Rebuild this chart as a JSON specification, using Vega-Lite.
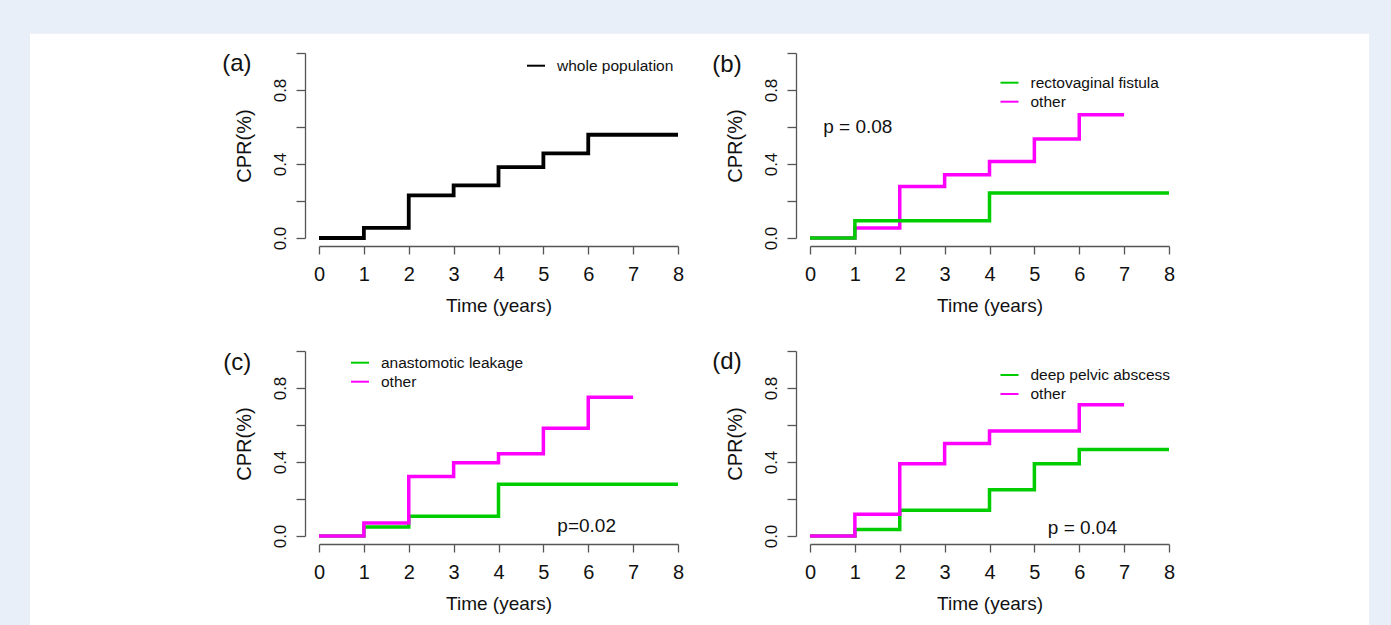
{
  "$schema": "https://vega.github.io/schema/vega-lite/v6.json",
  "background": "#e8eff8",
  "padding": {"left": 30, "top": 33, "right": 22, "bottom": 0},
  "config": {
    "view": {"stroke": null},
    "font": "Liberation Sans",
    "axis": {"grid": false, "domainColor": "#555555", "tickColor": "#555555", "domainWidth": 1.3, "tickWidth": 1.3, "labelColor": "#111111", "titleColor": "#111111", "titleFontWeight": "normal", "labelFont": "Liberation Sans", "titleFont": "Liberation Sans"},
    "axisX": {"labelFontSize": 20, "titleFontSize": 19},
    "axisY": {"labelFontSize": 17, "titleFontSize": 20},
    "legend": {"orient": "none", "symbolType": "stroke", "symbolSize": 324, "symbolStrokeWidth": 2, "labelFontSize": 15.5, "labelFont": "Liberation Sans", "labelColor": "#111111", "rowPadding": 0, "padding": 0, "labelOffset": 11, "title": null},
    "text": {"font": "Liberation Sans", "color": "#111111"}
  },
  "resolve": {"scale": {"color": "independent"}, "legend": {"color": "independent"}},
  "bounds": "flush",
  "columns": 2,
  "spacing": {"row": 113, "column": 132},
  "concat": [
    {
      "width": 359, "height": 185,
      "data": {"values": [
        {"group": "whole population", "t": 0, "cpr": 0},
        {"group": "whole population", "t": 1, "cpr": 0.055},
        {"group": "whole population", "t": 2, "cpr": 0.23},
        {"group": "whole population", "t": 3, "cpr": 0.284},
        {"group": "whole population", "t": 4, "cpr": 0.383},
        {"group": "whole population", "t": 5, "cpr": 0.457},
        {"group": "whole population", "t": 6, "cpr": 0.558},
        {"group": "whole population", "t": 8, "cpr": 0.558}
      ]},
      "encoding": {
        "x": {"field": "t", "type": "quantitative", "scale": {"domain": [0, 8], "nice": false, "zero": false},
          "axis": {"zindex": 1, "values": [0, 1, 2, 3, 4, 5, 6, 7, 8], "title": "Time (years)", "tickSize": 8, "offset": 8, "labelPadding": 10.5, "titlePadding": 11.5, "labelFlush": false, "labelOverlap": false}},
        "y": {"field": "cpr", "type": "quantitative", "scale": {"domain": [0, 1], "nice": false, "zero": false},
          "axis": {"zindex": 1, "values": [0, 0.2, 0.4, 0.6, 0.8, 1], "format": ".1f", "labelExpr": "indexof(['0.0','0.4','0.8'], datum.label) >= 0 ? datum.label : ''", "labelAngle": -90, "labelAlign": "center", "labelBaseline": "bottom", "tickSize": 9, "offset": 14, "labelPadding": 6.5, "titlePadding": 17.5, "title": "CPR(%)", "labelOverlap": false, "labelFlush": false}}
      },
      "layer": [
        {
          "transform": [{"filter": "datum.t === 0"}],
          "mark": {"type": "rect", "fill": "white"},
          "encoding": {
            "x": {"datum": -6.44, "type": "quantitative", "scale": {"domain": [0, 8], "nice": false, "zero": false}},
            "x2": {"datum": 23.4},
            "y": {"datum": 1.1043, "type": "quantitative", "scale": {"domain": [0, 1], "nice": false, "zero": false}},
            "y2": {"datum": -2.0957}
          }
        },
        {
          "mark": {"type": "line", "interpolate": "step-after", "strokeWidth": 3.8, "strokeCap": "butt", "strokeJoin": "miter"},
          "encoding": {
            "color": {"field": "group", "type": "nominal", "scale": {"domain": ["whole population"], "range": ["#000000"]},
              "legend": {"legendX": 207, "legendY": 2.7}}
          }
        },
        {
          "transform": [{"filter": "datum.t === 0"}],
          "mark": {"type": "text", "fontSize": 24, "align": "center", "baseline": "middle"},
          "encoding": {
            "x": {"datum": -1.83, "type": "quantitative"},
            "y": {"datum": 0.94, "type": "quantitative"},
            "text": {"value": "(a)"}
          }
        }
      ]
    },
    {
      "width": 359, "height": 185,
      "data": {"values": [
        {"group": "rectovaginal fistula", "t": 0, "cpr": 0},
        {"group": "rectovaginal fistula", "t": 1, "cpr": 0.093},
        {"group": "rectovaginal fistula", "t": 4, "cpr": 0.243},
        {"group": "rectovaginal fistula", "t": 8, "cpr": 0.243},
        {"group": "other", "t": 0, "cpr": 0},
        {"group": "other", "t": 1, "cpr": 0.054},
        {"group": "other", "t": 2, "cpr": 0.278},
        {"group": "other", "t": 3, "cpr": 0.342},
        {"group": "other", "t": 4, "cpr": 0.414},
        {"group": "other", "t": 5, "cpr": 0.535},
        {"group": "other", "t": 6, "cpr": 0.666},
        {"group": "other", "t": 7, "cpr": 0.666}
      ]},
      "encoding": {
        "x": {"field": "t", "type": "quantitative", "scale": {"domain": [0, 8], "nice": false, "zero": false},
          "axis": {"zindex": 1, "values": [0, 1, 2, 3, 4, 5, 6, 7, 8], "title": "Time (years)", "tickSize": 8, "offset": 8, "labelPadding": 10.5, "titlePadding": 11.5, "labelFlush": false, "labelOverlap": false}},
        "y": {"field": "cpr", "type": "quantitative", "scale": {"domain": [0, 1], "nice": false, "zero": false},
          "axis": {"zindex": 1, "values": [0, 0.2, 0.4, 0.6, 0.8, 1], "format": ".1f", "labelExpr": "indexof(['0.0','0.4','0.8'], datum.label) >= 0 ? datum.label : ''", "labelAngle": -90, "labelAlign": "center", "labelBaseline": "bottom", "tickSize": 9, "offset": 14, "labelPadding": 6.5, "titlePadding": 17.5, "title": "CPR(%)", "labelOverlap": false, "labelFlush": false}}
      },
      "layer": [
        {"transform": [{"filter": "datum.group === 'other'"}], "mark": {"type": "line", "interpolate": "step-after", "strokeWidth": 3.5, "strokeCap": "butt", "strokeJoin": "miter"},
          "encoding": {"color": {"field": "group", "type": "nominal", "scale": {"domain": ["rectovaginal fistula", "other"], "range": ["#00cd00", "#ff00ff"]}, "legend": {"legendX": 189.5, "legendY": 19.7}}}},
        {"transform": [{"filter": "datum.group === 'rectovaginal fistula'"}], "mark": {"type": "line", "interpolate": "step-after", "strokeWidth": 3.5, "strokeCap": "butt", "strokeJoin": "miter"},
          "encoding": {"color": {"field": "group", "type": "nominal", "scale": {"domain": ["rectovaginal fistula", "other"], "range": ["#00cd00", "#ff00ff"]}, "legend": {"legendX": 189.5, "legendY": 19.7}}}},
        {
          "transform": [{"filter": "datum.t === 0 && datum.group === 'other'"}],
          "mark": {"type": "text", "fontSize": 24, "align": "center", "baseline": "middle"},
          "encoding": {
            "x": {"datum": -1.85, "type": "quantitative"},
            "y": {"datum": 0.937, "type": "quantitative"},
            "text": {"value": "(b)"}
          }
        },
        {
          "transform": [{"filter": "datum.t === 0 && datum.group === 'other'"}],
          "mark": {"type": "text", "fontSize": 19, "align": "center", "baseline": "middle"},
          "encoding": {
            "x": {"datum": 1.065, "type": "quantitative"},
            "y": {"datum": 0.6, "type": "quantitative"},
            "text": {"value": "p = 0.08"}
          }
        }
      ]
    },
    {
      "width": 359, "height": 185,
      "data": {"values": [
        {"group": "anastomotic leakage", "t": 0, "cpr": 0},
        {"group": "anastomotic leakage", "t": 1, "cpr": 0.049},
        {"group": "anastomotic leakage", "t": 2, "cpr": 0.107},
        {"group": "anastomotic leakage", "t": 4, "cpr": 0.28},
        {"group": "anastomotic leakage", "t": 8, "cpr": 0.28},
        {"group": "other", "t": 0, "cpr": 0},
        {"group": "other", "t": 1, "cpr": 0.07},
        {"group": "other", "t": 2, "cpr": 0.322},
        {"group": "other", "t": 3, "cpr": 0.396},
        {"group": "other", "t": 4, "cpr": 0.445},
        {"group": "other", "t": 5, "cpr": 0.583},
        {"group": "other", "t": 6, "cpr": 0.75},
        {"group": "other", "t": 7, "cpr": 0.75}
      ]},
      "encoding": {
        "x": {"field": "t", "type": "quantitative", "scale": {"domain": [0, 8], "nice": false, "zero": false},
          "axis": {"zindex": 1, "values": [0, 1, 2, 3, 4, 5, 6, 7, 8], "title": "Time (years)", "tickSize": 8, "offset": 8, "labelPadding": 10.5, "titlePadding": 11.5, "labelFlush": false, "labelOverlap": false}},
        "y": {"field": "cpr", "type": "quantitative", "scale": {"domain": [0, 1], "nice": false, "zero": false},
          "axis": {"zindex": 1, "values": [0, 0.2, 0.4, 0.6, 0.8, 1], "format": ".1f", "labelExpr": "indexof(['0.0','0.4','0.8'], datum.label) >= 0 ? datum.label : ''", "labelAngle": -90, "labelAlign": "center", "labelBaseline": "bottom", "tickSize": 9, "offset": 14, "labelPadding": 6.5, "titlePadding": 17.5, "title": "CPR(%)", "labelOverlap": false, "labelFlush": false}}
      },
      "layer": [
        {"transform": [{"filter": "datum.group === 'anastomotic leakage'"}], "mark": {"type": "line", "interpolate": "step-after", "strokeWidth": 3.5, "strokeCap": "butt", "strokeJoin": "miter"},
          "encoding": {"color": {"field": "group", "type": "nominal", "scale": {"domain": ["anastomotic leakage", "other"], "range": ["#00cd00", "#ff00ff"]}, "legend": {"legendX": 31, "legendY": 1.7}}}},
        {"transform": [{"filter": "datum.group === 'other'"}], "mark": {"type": "line", "interpolate": "step-after", "strokeWidth": 3.5, "strokeCap": "butt", "strokeJoin": "miter"},
          "encoding": {"color": {"field": "group", "type": "nominal", "scale": {"domain": ["anastomotic leakage", "other"], "range": ["#00cd00", "#ff00ff"]}, "legend": {"legendX": 31, "legendY": 1.7}}}},
        {
          "transform": [{"filter": "datum.t === 0 && datum.group === 'other'"}],
          "mark": {"type": "text", "fontSize": 24, "align": "center", "baseline": "middle"},
          "encoding": {
            "x": {"datum": -1.82, "type": "quantitative"},
            "y": {"datum": 0.937, "type": "quantitative"},
            "text": {"value": "(c)"}
          }
        },
        {
          "transform": [{"filter": "datum.t === 0 && datum.group === 'other'"}],
          "mark": {"type": "text", "fontSize": 19, "align": "center", "baseline": "middle"},
          "encoding": {
            "x": {"datum": 5.965, "type": "quantitative"},
            "y": {"datum": 0.054, "type": "quantitative"},
            "text": {"value": "p=0.02"}
          }
        }
      ]
    },
    {
      "width": 359, "height": 185,
      "data": {"values": [
        {"group": "deep pelvic abscess", "t": 0, "cpr": 0},
        {"group": "deep pelvic abscess", "t": 1, "cpr": 0.035},
        {"group": "deep pelvic abscess", "t": 2, "cpr": 0.139},
        {"group": "deep pelvic abscess", "t": 4, "cpr": 0.25},
        {"group": "deep pelvic abscess", "t": 5, "cpr": 0.39},
        {"group": "deep pelvic abscess", "t": 6, "cpr": 0.468},
        {"group": "deep pelvic abscess", "t": 8, "cpr": 0.468},
        {"group": "other", "t": 0, "cpr": 0},
        {"group": "other", "t": 1, "cpr": 0.117},
        {"group": "other", "t": 2, "cpr": 0.39},
        {"group": "other", "t": 3, "cpr": 0.5},
        {"group": "other", "t": 4, "cpr": 0.567},
        {"group": "other", "t": 6, "cpr": 0.71},
        {"group": "other", "t": 7, "cpr": 0.71}
      ]},
      "encoding": {
        "x": {"field": "t", "type": "quantitative", "scale": {"domain": [0, 8], "nice": false, "zero": false},
          "axis": {"zindex": 1, "values": [0, 1, 2, 3, 4, 5, 6, 7, 8], "title": "Time (years)", "tickSize": 8, "offset": 8, "labelPadding": 10.5, "titlePadding": 11.5, "labelFlush": false, "labelOverlap": false}},
        "y": {"field": "cpr", "type": "quantitative", "scale": {"domain": [0, 1], "nice": false, "zero": false},
          "axis": {"zindex": 1, "values": [0, 0.2, 0.4, 0.6, 0.8, 1], "format": ".1f", "labelExpr": "indexof(['0.0','0.4','0.8'], datum.label) >= 0 ? datum.label : ''", "labelAngle": -90, "labelAlign": "center", "labelBaseline": "bottom", "tickSize": 9, "offset": 14, "labelPadding": 6.5, "titlePadding": 17.5, "title": "CPR(%)", "labelOverlap": false, "labelFlush": false}}
      },
      "layer": [
        {"transform": [{"filter": "datum.group === 'deep pelvic abscess'"}], "mark": {"type": "line", "interpolate": "step-after", "strokeWidth": 3.5, "strokeCap": "butt", "strokeJoin": "miter"},
          "encoding": {"color": {"field": "group", "type": "nominal", "scale": {"domain": ["deep pelvic abscess", "other"], "range": ["#00cd00", "#ff00ff"]}, "legend": {"legendX": 189.5, "legendY": 14}}}},
        {"transform": [{"filter": "datum.group === 'other'"}], "mark": {"type": "line", "interpolate": "step-after", "strokeWidth": 3.5, "strokeCap": "butt", "strokeJoin": "miter"},
          "encoding": {"color": {"field": "group", "type": "nominal", "scale": {"domain": ["deep pelvic abscess", "other"], "range": ["#00cd00", "#ff00ff"]}, "legend": {"legendX": 189.5, "legendY": 14}}}},
        {
          "transform": [{"filter": "datum.t === 0 && datum.group === 'other'"}],
          "mark": {"type": "text", "fontSize": 24, "align": "center", "baseline": "middle"},
          "encoding": {
            "x": {"datum": -1.85, "type": "quantitative"},
            "y": {"datum": 0.94, "type": "quantitative"},
            "text": {"value": "(d)"}
          }
        },
        {
          "transform": [{"filter": "datum.t === 0 && datum.group === 'other'"}],
          "mark": {"type": "text", "fontSize": 19, "align": "center", "baseline": "middle"},
          "encoding": {
            "x": {"datum": 6.07, "type": "quantitative"},
            "y": {"datum": 0.045, "type": "quantitative"},
            "text": {"value": "p = 0.04"}
          }
        }
      ]
    }
  ]
}
